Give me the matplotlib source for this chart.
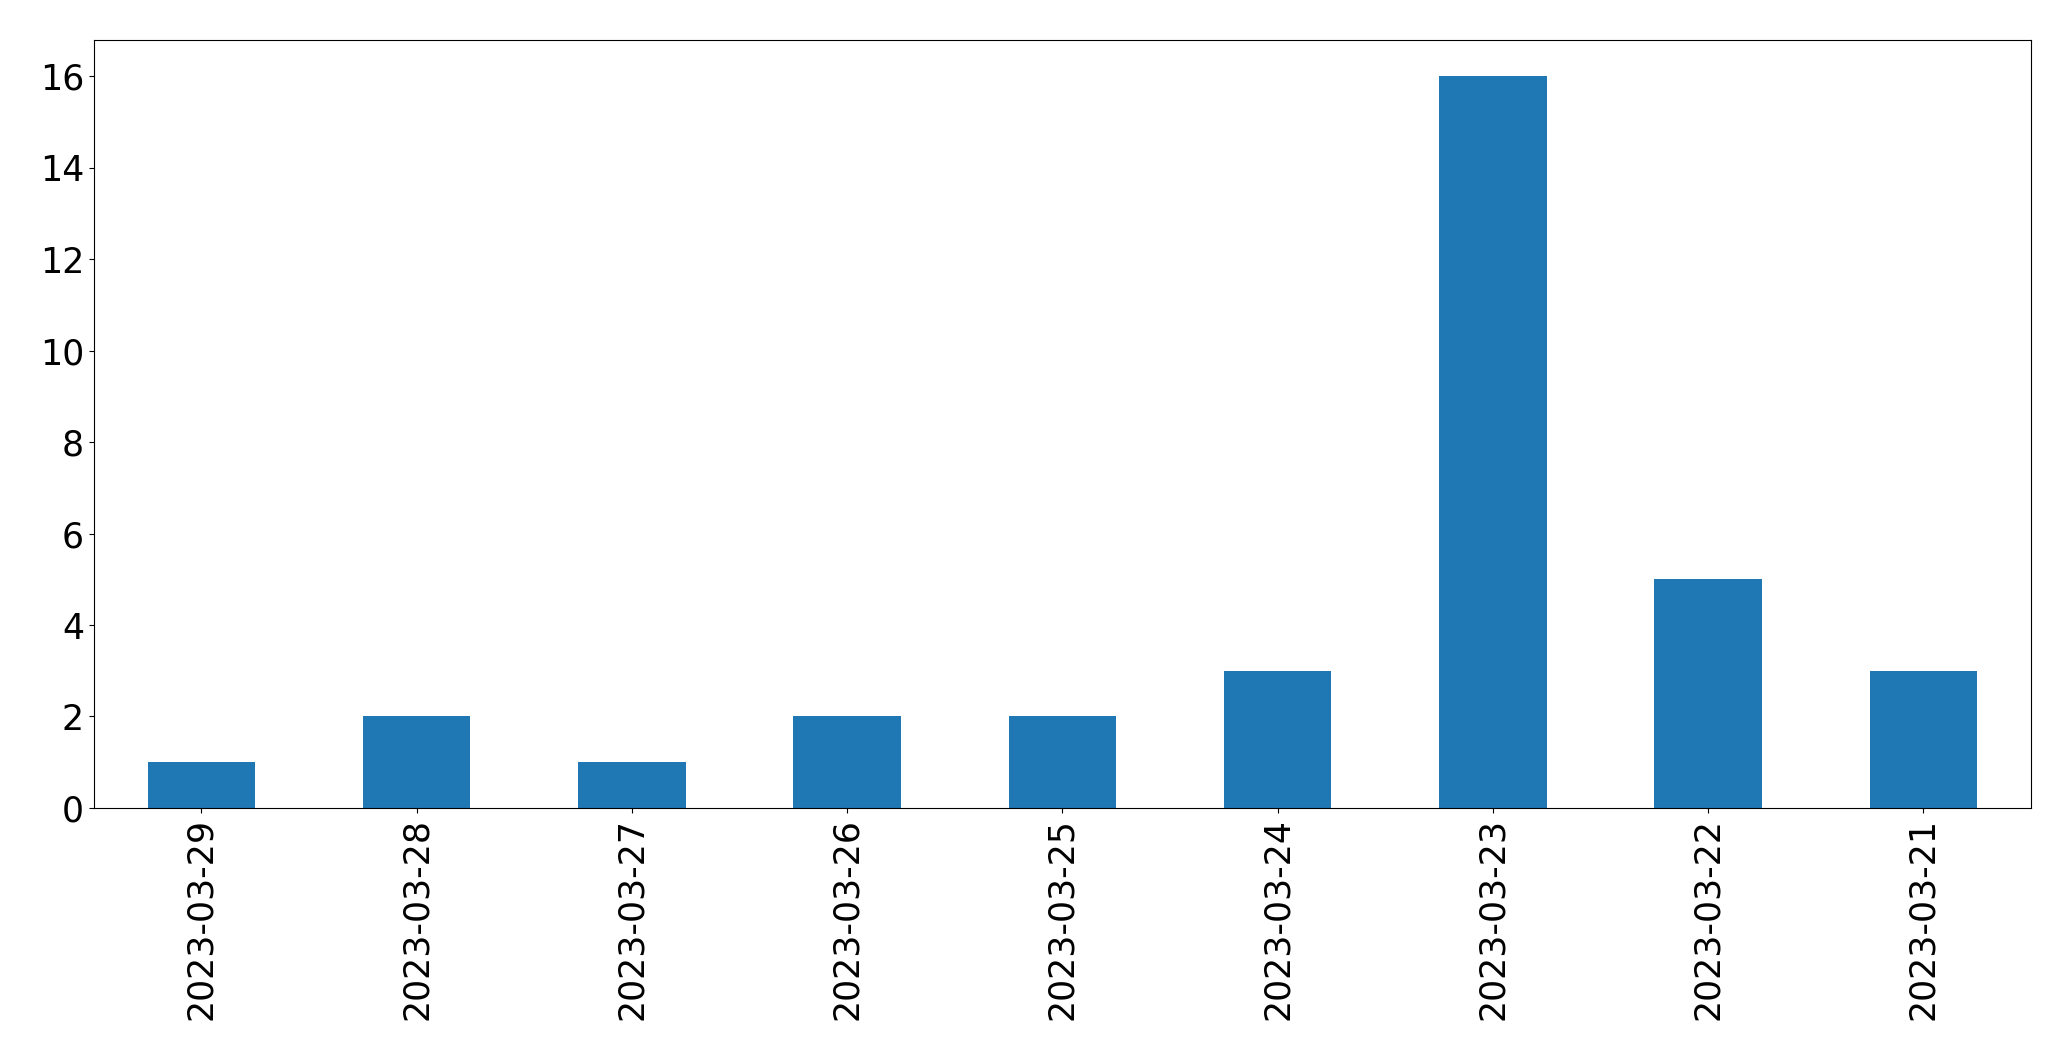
import matplotlib
matplotlib.use("Agg")
import matplotlib.pyplot as plt
import pandas as pd

dates = ["2023-03-29", "2023-03-28", "2023-03-27", "2023-03-26", "2023-03-25",
         "2023-03-24", "2023-03-23", "2023-03-22", "2023-03-21"]
counts = [1, 2, 1, 2, 2, 3, 16, 5, 3]

s = pd.Series(counts, index=dates)

fig = plt.figure(figsize=(20.71, 10.61), dpi=100)
ax = fig.add_subplot(111)
s.plot(kind="bar", ax=ax, color="#1f77b4")
ax.tick_params(axis="both", labelsize=25)
fig.subplots_adjust(left=0.0453, right=0.9807, top=0.9627, bottom=0.2385)
fig.savefig("out.png", dpi=100)
